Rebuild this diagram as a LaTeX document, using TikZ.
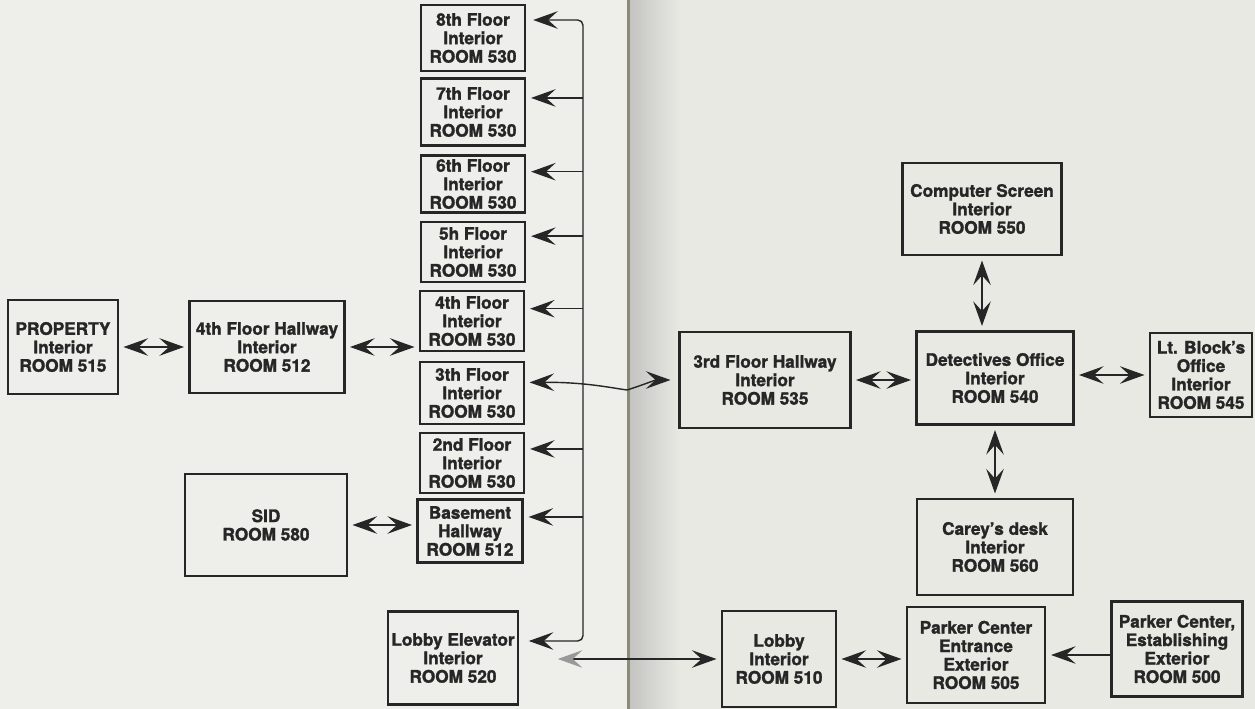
\documentclass[tikz,border=0pt]{standalone}
\usepackage{fontspec}
\setmainfont{TeX Gyre Heros}[BoldFeatures={FakeBold=1.6}]
\usetikzlibrary{arrows.meta}

\definecolor{pageleft}{HTML}{EEEEEA}
\definecolor{pageright}{HTML}{E9E9E4}
\definecolor{gutterline}{HTML}{8C8A78}
\definecolor{ink}{HTML}{262626}

\begin{document}
\begin{tikzpicture}[x=0.02cm, y=-0.02cm,
        room/.style={draw=ink, line width=1.3pt, align=center, inner sep=0pt,
            text=ink, font=\fontsize{9.8}{10.5}\selectfont\bfseries},
        wh/.style 2 args={minimum width={#1*0.02cm}, minimum height={#2*0.02cm}},
        roomtip/.tip={Stealth[length=14pt, width=10pt, inset=5.5pt]},
        link/.style={draw=ink, line width=0.7pt, {roomtip}-{roomtip},
            shorten <=2.5pt, shorten >=2.5pt},
        feed/.style={draw=ink, line width=0.8pt, -{roomtip}, shorten >=2.8pt}
    ]
    \useasboundingbox (0,0) rectangle (1255,709);

    % the two pages of the book
    \fill[pageleft] (0,0) rectangle (629,709);
    \fill[pageright] (629,0) rectangle (1255,709);
    \shade[left color=gray!35!pageright, right color=pageright] (630,0) rectangle (680,709);
    \fill[gutterline] (627,0) rectangle (630,709);

    % left page
    \node[room, wh={110}{94}] (prop) at (63, 347) {PROPERTY\\Interior\\ROOM 515};
    \node[room, wh={155}{92}] (hall4) at (267, 347) {4th Floor Hallway\\Interior\\ROOM 512};
    \node[room, wh={162}{102}] (sid) at (266, 525) {SID\\ROOM 580};

    \node[room, wh={104}{66}] (f8) at (473, 38) {8th Floor\\Interior\\ROOM 530};
    \node[room, wh={104}{67}] (f7) at (473, 112) {7th Floor\\Interior\\ROOM 530};
    \node[room, wh={104}{57}] (f6) at (473, 184) {6th Floor\\Interior\\ROOM 530};
    \node[room, wh={104}{60}] (f5) at (473, 252) {5h Floor\\Interior\\ROOM 530};
    \node[room, wh={104}{60}] (f4) at (472, 321) {4th Floor\\Interior\\ROOM 530};
    \node[room, wh={104}{62}] (f3) at (472, 393) {3th Floor\\Interior\\ROOM 530};
    \node[room, wh={104}{60}] (f2) at (472, 463) {2nd Floor\\Interior\\ROOM 530};
    \node[room, wh={105}{63}] (base) at (470, 531) {Basement\\Hallway\\ROOM 512};
    \node[room, wh={130}{93}] (elev) at (453, 658) {Lobby Elevator\\Interior\\ROOM 520};

    % right page
    \node[room, wh={171}{96}] (hall3) at (765, 380) {3rd Floor Hallway\\Interior\\ROOM 535};
    \node[room, wh={157}{93}] (det) at (995, 378) {Detectives Office\\Interior\\ROOM 540};
    \node[room, wh={159}{92}] (comp) at (982, 209) {Computer Screen\\Interior\\ROOM 550};
    \node[room, wh={102}{84}] (lt) at (1201, 375) {Lt. Block's\\Office\\Interior\\ROOM 545};
    \node[room, wh={156}{96}] (carey) at (995, 547) {Carey's desk\\Interior\\ROOM 560};
    \node[room, wh={114}{96}] (lobby) at (779, 659) {Lobby\\Interior\\ROOM 510};
    \node[room, wh={138}{96}] (ent) at (976, 655) {Parker Center\\Entrance\\Exterior\\ROOM 505};
    \node[room, wh={131}{95}] (est) at (1177, 649) {Parker Center,\\Establishing\\Exterior\\ROOM 500};

    % two-way links
    \draw[link] (prop) -- (hall4);
    \draw[link] (hall4.east) -- (hall4.east -| f4.west);
    \draw[link] (sid.east) -- (sid.east -| base.west);
    \draw[link] (hall3.east) -- (hall3.east -| det.west);
    \draw[link] (lt.west -| det.east) -- (lt.west);
    \draw[link] (comp.south) -- (comp.south |- det.north);
    \draw[link] (det.south) -- (det.south |- carey.north);
    \draw[link] (lobby.east) -- (lobby.east -| ent.west);
    \draw[feed] (ent.east -| est.west) -- (ent.east);

    % elevator shaft
    \coordinate (bustop) at (583, 20);
    \coordinate (busbot) at (583, 641);
    \draw[draw=ink, line width=0.8pt, rounded corners=3pt, {roomtip}-{roomtip},
        shorten <=4pt, shorten >=5.5pt]
        (bustop -| f8.east) -- (bustop) -- (busbot) -- (busbot -| elev.east);
    \foreach \b/\dy in {f7/8pt, f6/7pt, f5/9pt, f4/7pt, f2/8pt, base/8pt} {
        \coordinate (t) at ([yshift=\dy]\b.east);
        \draw[feed] (t -| bustop) -- (t);
    }

    % across the gutter
    \coordinate (t3) at ([yshift=6pt]f3.east);
    \draw[link, line width=0.8pt, shorten >=4.5pt]
        (t3) .. controls (585, 382) and (612, 388) .. (627, 390)
        .. controls (640, 386) and (655, 380) .. (hall3.west);
    \draw[draw=ink, line width=0.8pt,
        {Stealth[length=14pt, width=10pt, inset=5.5pt, color=gray!80]}-{roomtip},
        shorten <=22pt, shorten >=2.5pt]
        (elev.east |- lobby.west) -- (lobby.west);
\end{tikzpicture}
\end{document}
